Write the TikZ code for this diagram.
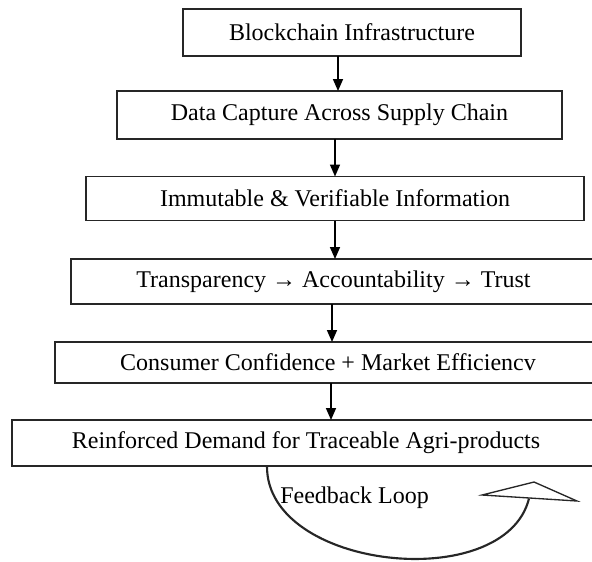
\documentclass[tikz,border=0pt]{standalone}
\usepackage{fontspec}
\setmainfont{Liberation Serif}
\usetikzlibrary{arrows.meta}
\newdimen\pxu \pxu=0.75pt
\tikzset{
  box/.style={draw=black!85, line width=1.1pt, inner sep=0pt, outer sep=0pt,
    font=\fontsize{18}{20}\selectfont, anchor=center},
  arr/.style={draw=black, line width=1.2pt, -{Triangle[width=7.5pt,length=9pt]}},
  loopline/.style={draw=black!85, line width=1.6pt},
  loophead/.style={draw=black!85, line width=1pt, fill=white, line join=miter},
  lbl/.style={font=\fontsize{18}{20}\selectfont, inner sep=0pt, anchor=west}
}
\begin{document}
\begin{tikzpicture}[x=0.75pt,y=-0.75pt]
\useasboundingbox (0,0) rectangle (592,561);
\node[box, minimum width=338\pxu, minimum height=47\pxu] (b1) at (352,32.5) {Blockchain Infrastructure};
\node[box, minimum width=445\pxu, minimum height=48\pxu] (b2) at (339.5,115) {Data Capture Across Supply Chain};
\node[box, minimum width=498\pxu, minimum height=44\pxu] (b3) at (335,198.5) {Immutable \& Verifiable Information};
\node[box, minimum width=525\pxu, minimum height=45\pxu] (b4) at (333.5,281.5) {Transparency \textrightarrow{} Accountability \textrightarrow{} Trust};
\node[box, minimum width=546\pxu, minimum height=41\pxu] (b5) at (328,362.5) {Consumer Confidence + Market Efficiencv};
\node[box, minimum width=588\pxu, minimum height=46\pxu] (b6) at (306,443) {Reinforced Demand for Traceable Agri-products};
\coordinate (a1) at (338,0);
\coordinate (a2) at (335,0);
\coordinate (a3) at (335,0);
\coordinate (a4) at (332,0);
\coordinate (a5) at (331,0);
\draw[arr] (b1.south -| a1) -- (b2.north -| a1);
\draw[arr] (b2.south -| a2) -- (b3.north -| a2);
\draw[arr] (b3.south -| a3) -- (b4.north -| a3);
\draw[arr] (b4.south -| a4) -- (b5.north -| a4);
\draw[arr] (b5.south -| a5) -- (b6.north -| a5);
\coordinate (ls) at (267,0);
\coordinate (le) at (529,498.5);
\draw[loopline] (b6.south -| ls) .. controls (266,570) and (505,595) .. (le);
\draw[loophead] (482,495) -- (534,482) -- (577,501) -- cycle;
\node[lbl] (fb) at (280,498) {Feedback Loop};
\end{tikzpicture}
\end{document}
